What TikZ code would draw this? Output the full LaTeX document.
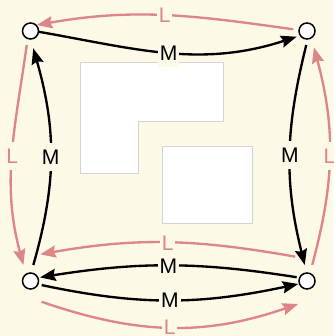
\documentclass[tikz,border=0pt]{standalone}
\usepackage{fontspec}
\setmainfont{Liberation Sans}
\usepackage{tikz}
\usetikzlibrary{arrows.meta}
\definecolor{paper}{RGB}{252,249,231}
\definecolor{lpink}{RGB}{222,133,137}
\definecolor{wallgray}{RGB}{212,212,212}
\tikzset{
    vertex/.style={draw, circle, fill=white, line width=1.3pt, minimum size=4.8mm, inner sep=0pt},
    wall/.style={draw=wallgray, fill=white, line width=0.8pt},
    mline/.style={->, >={Stealth[length=4.7mm, width=3.6mm, inset=0.6mm]}, line width=2pt, black},
    lline/.style={->, >={Stealth[length=4.7mm, width=3.6mm, inset=0.6mm]}, line width=2pt, lpink},
    mlab/.style={fill=paper, text=black, font=\fontsize{18}{18}\selectfont, text height=12.9pt, text depth=0pt, inner xsep=1.5pt, inner ysep=5.5pt},
    llab/.style={mlab, text=lpink}
}

\begin{document}
\begin{tikzpicture}[x=0.3mm, y=0.3mm]
        % Background and frame
        \fill [paper] (0,0) rectangle (333,336);
        \useasboundingbox (0,0) rectangle (333,336);

        % The two blocks in the middle
        \draw [wall] (80.7,273.7) -- (223.3,273.7) -- (223.3,214.3) -- (138.7,214.3) -- (138.7,163) -- (80.7,163) -- cycle;
        \draw [wall] (162,190) rectangle (252.7,112.3);

        % Vertices
        \node [vertex] (tl) at (30.5,305) {};
        \node [vertex] (tr) at (307,305) {};
        \node [vertex] (bl) at (30.5,55) {};
        \node [vertex] (br) at (307,55) {};

        % Top pair
        \draw [lline] ([shift={(173:13.8)}]tr.center) to[out=172, in=10] node [llab] {L} ([shift={(44:8.6)}]tl.center);
        \draw [mline] ([shift={(-5:7.8)}]tl.center) to[out=-10, in=198] node [mlab] {M} ([shift={(209:11.8)}]tr.center);

        % Right pair
        \draw [mline] ([shift={(267:14)}]tr.center) to[out=256, in=104] node [mlab] {M} ([shift={(98:16.2)}]br.center);
        \draw [lline] ([shift={(72:16.9)}]br.center) to[out=75, in=-75] node [llab] {L} ([shift={(-67:17.7)}]tr.center);

        % Left pair
        \draw [mline] ([shift={(80:16.2)}]bl.center) to[out=74, in=-74] node [mlab] {M} ([shift={(-81:17.5)}]tl.center);
        \draw [lline] ([shift={(255:14.5)}]tl.center) to[out=262, in=105] node [llab] {L} ([shift={(114:17.5)}]bl.center);

        % Bottom four
        \draw [lline] ([shift={(116:27.1)}]br.center) to[out=170, in=10] node [llab] {L} ([shift={(70:28.4)}]bl.center);
        \draw [mline] ([shift={(160:11)}]br.center) to[out=171, in=9] node [mlab] {M} ([shift={(21:10.2)}]bl.center);
        \draw [mline] ([shift={(-20:11.9)}]bl.center) to[out=-12, in=192] node [mlab] {M} ([shift={(199:9.2)}]br.center);
        \draw [lline] ([shift={(-62:23.5)}]bl.center) to[out=-19, in=199] node [llab] {L} ([shift={(249:24.6)}]br.center);
    \end{tikzpicture}
\end{document}
